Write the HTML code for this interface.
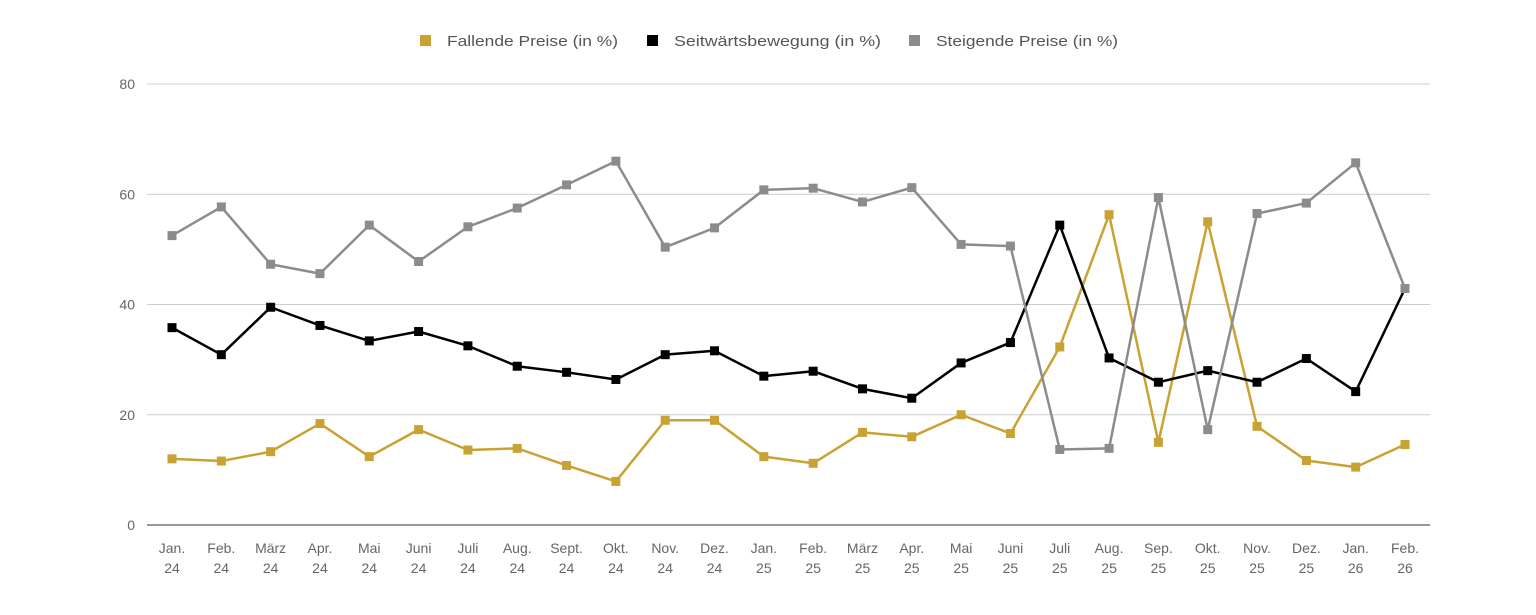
<!DOCTYPE html>
<html><head><meta charset="utf-8"><style>
html,body{margin:0;padding:0;background:#fff;}
svg text{font-family:"Liberation Sans",sans-serif;}
</style></head><body>
<svg id="c" width="1536" height="610" xmlns="http://www.w3.org/2000/svg"></svg>
<script>
const svg=document.getElementById('c');
const NS='http://www.w3.org/2000/svg';
function el(t,a,txt){const e=document.createElementNS(NS,t);for(const k in a)e.setAttribute(k,a[k]);if(txt!==undefined)e.textContent=txt;svg.appendChild(e);return e;}
const y0=525,sc=5.5125,x0=172,dx=49.32;
const Y=v=>y0-v*sc, X=i=>x0+i*dx;
for(let v=0;v<=80;v+=20){
  el('line',{x1:147,x2:1430,y1:Y(v),y2:Y(v),stroke:v?'#cccccc':'#333',"stroke-width":1});
  el('text',{x:135,y:Y(v)+5,"text-anchor":"end","font-size":14,fill:'#666'},v);
}
const m=["Jan.","Feb.","März","Apr.","Mai","Juni","Juli","Aug.","Sept.","Okt.","Nov.","Dez.","Jan.","Feb.","März","Apr.","Mai","Juni","Juli","Aug.","Sep.","Okt.","Nov.","Dez.","Jan.","Feb."];
const yr=["24","24","24","24","24","24","24","24","24","24","24","24","25","25","25","25","25","25","25","25","25","25","25","25","26","26"];
m.forEach((t,i)=>{el('text',{x:X(i),y:553,"text-anchor":"middle","font-size":14,fill:'#666'},t);el('text',{x:X(i),y:573,"text-anchor":"middle","font-size":14,fill:'#666'},yr[i]);});
const gray=[52.5,57.7,47.3,45.6,54.4,47.8,54.1,57.5,61.7,66,50.4,53.9,60.8,61.1,58.6,61.2,50.9,50.6,13.7,13.9,59.4,17.3,56.5,58.4,65.7,42.9];
const black=[35.8,30.9,39.5,36.2,33.4,35.1,32.5,28.8,27.7,26.4,30.9,31.6,27,27.9,24.7,23,29.4,33.1,54.4,30.3,25.9,28,25.9,30.2,24.2,42.9];
const gold=[12,11.6,13.3,18.4,12.4,17.3,13.6,13.9,10.8,7.9,19,19,12.4,11.2,16.8,16,20,16.6,32.3,56.3,15,55,17.9,11.7,10.5,14.6];
function series(d,c){
  el('polyline',{points:d.map((v,i)=>X(i)+','+Y(v)).join(' '),fill:'none',stroke:c,"stroke-width":2.5,"stroke-linejoin":"round"});
  d.forEach((v,i)=>el('rect',{x:X(i)-4.5,y:Y(v)-4.5,width:9,height:9,fill:c}));
}
series(gold,'#c9a234');series(black,'#000');series(gray,'#8c8c8c');
const lg=[[420,'#c9a234','Fallende Preise (in %)',171],[647,'#000','Seitwärtsbewegung (in %)',207],[909,'#8c8c8c','Steigende Preise (in %)',182]];
lg.forEach(([x,c,t,w])=>{el('rect',{x:x,y:35,width:11,height:11,fill:c});el('text',{x:x+27,y:46,"font-size":15,fill:'#555',textLength:w,lengthAdjust:'spacingAndGlyphs'},t);});
</script>
</body></html>
